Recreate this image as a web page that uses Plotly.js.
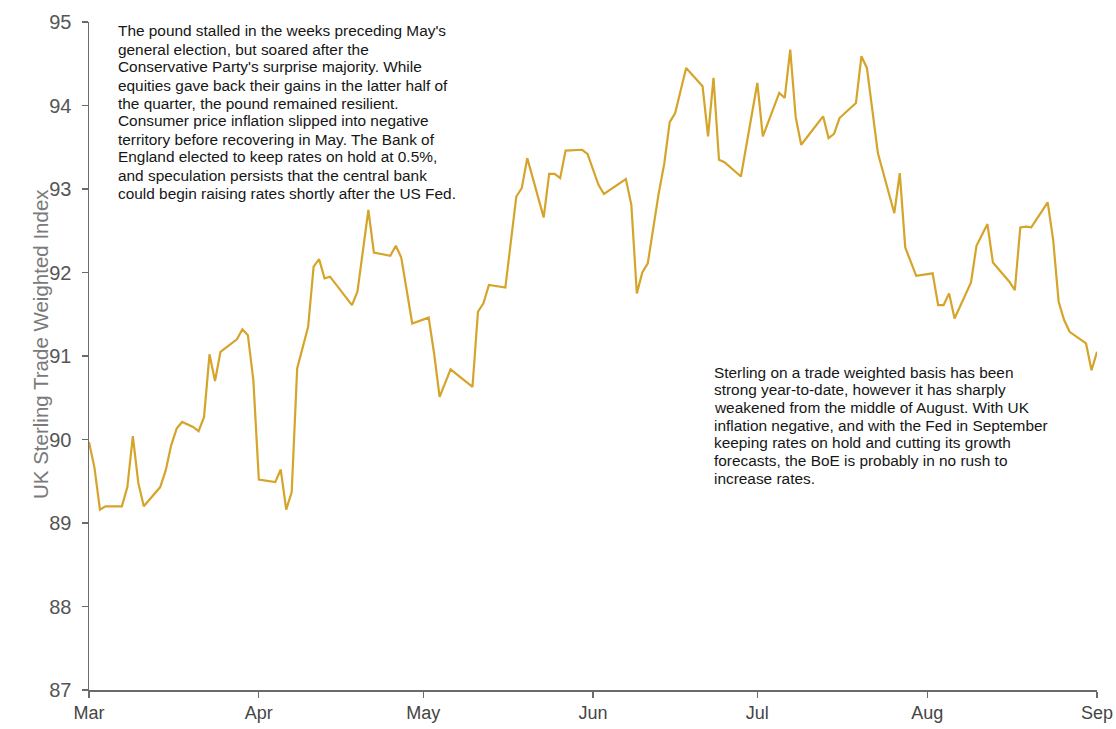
<!DOCTYPE html>
<html>
<head>
<meta charset="utf-8">
<script src="https://cdn.plot.ly/plotly-3.0.1.min.js"></script>
<style>
  html, body { margin: 0; padding: 0; background: #ffffff; }
  #chart { width: 1116px; height: 729px; }
</style>
</head>
<body>
<div id="chart"></div>
<script>
// Dates of the plotted observations (2015)
const dates = [
  "2015-03-01","2015-03-02","2015-03-03","2015-03-04","2015-03-07","2015-03-08","2015-03-09","2015-03-10",
  "2015-03-11","2015-03-14","2015-03-15","2015-03-16","2015-03-17","2015-03-18","2015-03-20","2015-03-21",
  "2015-03-22","2015-03-23","2015-03-24","2015-03-25","2015-03-28","2015-03-29","2015-03-30","2015-03-31",
  "2015-04-01","2015-04-04","2015-04-05","2015-04-06","2015-04-07","2015-04-08","2015-04-10","2015-04-11",
  "2015-04-12","2015-04-13","2015-04-14","2015-04-18","2015-04-19","2015-04-21","2015-04-22","2015-04-25",
  "2015-04-26","2015-04-27","2015-04-29","2015-05-02","2015-05-03","2015-05-04","2015-05-06","2015-05-10",
  "2015-05-11","2015-05-12","2015-05-13","2015-05-16","2015-05-18","2015-05-19","2015-05-20","2015-05-23",
  "2015-05-24","2015-05-25","2015-05-26","2015-05-27","2015-05-30","2015-05-31","2015-06-02","2015-06-03",
  "2015-06-07","2015-06-08","2015-06-09","2015-06-10","2015-06-11","2015-06-13","2015-06-14","2015-06-15",
  "2015-06-16","2015-06-18","2015-06-21","2015-06-22","2015-06-23","2015-06-24","2015-06-25","2015-06-28",
  "2015-07-01","2015-07-02","2015-07-05","2015-07-06","2015-07-07","2015-07-08","2015-07-09","2015-07-13",
  "2015-07-14","2015-07-15","2015-07-16","2015-07-19","2015-07-20","2015-07-21","2015-07-23","2015-07-26",
  "2015-07-27","2015-07-28","2015-07-30","2015-08-02","2015-08-03","2015-08-04","2015-08-05","2015-08-06",
  "2015-08-09","2015-08-10","2015-08-12","2015-08-13","2015-08-16","2015-08-17","2015-08-18","2015-08-19",
  "2015-08-20","2015-08-23","2015-08-24","2015-08-25","2015-08-26","2015-08-27","2015-08-30","2015-08-31",
  "2015-09-01"
];

// UK Sterling Trade Weighted Index values
const twi = [
  89.97, 89.66, 89.16, 89.20, 89.20, 89.43, 90.04, 89.48,
  89.20, 89.43, 89.63, 89.93, 90.13, 90.21, 90.15, 90.10,
  90.27, 91.02, 90.70, 91.05, 91.20, 91.32, 91.25, 90.71,
  89.52, 89.49, 89.64, 89.16, 89.37, 90.85, 91.35, 92.07,
  92.16, 91.93, 91.95, 91.61, 91.77, 92.75, 92.24, 92.20,
  92.32, 92.18, 91.39, 91.46, 91.03, 90.51, 90.84, 90.63,
  91.53, 91.63, 91.85, 91.82, 92.91, 93.01, 93.37, 92.66,
  93.18, 93.18, 93.13, 93.46, 93.47, 93.42, 93.05, 92.94,
  93.12, 92.81, 91.75, 92.00, 92.11, 92.95, 93.30, 93.80,
  93.91, 94.45, 94.23, 93.63, 94.33, 93.35, 93.32, 93.15,
  94.27, 93.63, 94.15, 94.09, 94.67, 93.86, 93.53, 93.87,
  93.61, 93.66, 93.85, 94.03, 94.59, 94.45, 93.43, 92.71,
  93.19, 92.30, 91.96, 91.99, 91.61, 91.61, 91.75, 91.45,
  91.88, 92.32, 92.58, 92.12, 91.89, 91.79, 92.54, 92.55,
  92.54, 92.84, 92.39, 91.65, 91.43, 91.29, 91.15, 90.83,
  91.05
];

const yTicks = [87, 88, 89, 90, 91, 92, 93, 94, 95];
const xTickDates = ["2015-03-01","2015-04-01","2015-05-01","2015-06-01","2015-07-01","2015-08-01","2015-09-01"];
const xTickLabels = ["Mar","Apr","May","Jun","Jul","Aug","Sep"];
const yTitle = "UK Sterling Trade Weighted Index";

const noteLeftLines = [
  "The pound stalled in the weeks preceding May's",
  "general election, but soared after the",
  "Conservative Party's surprise majority. While",
  "equities gave back their gains in the latter half of",
  "the quarter, the pound remained resilient.",
  "Consumer price inflation slipped into negative",
  "territory before recovering in May. The Bank of",
  "England elected to keep rates on hold at 0.5%,",
  "and speculation persists that the central bank",
  "could begin raising rates shortly after the US Fed."
];
const noteRightLines = [
  "Sterling on a trade weighted basis has been",
  "strong year-to-date, however it has sharply",
  "weakened from the middle of August. With UK",
  "inflation negative, and with the Fed in September",
  "keeping rates on hold and cutting its growth",
  "forecasts, the BoE is probably in no rush to",
  "increase rates."
];

const FONT = "Liberation Sans, Arial, Helvetica, sans-serif";

// plot area geometry in pixels (for placing the text notes)
const plotTop = 22, plotBottom = 690, plotLeft = 89, plotRight = 1097;
const px2paperX = px => (px - plotLeft) / (plotRight - plotLeft);
const px2paperY = py => (plotBottom - py) / (plotBottom - plotTop);

function noteAnnotations(lines, leftPx, firstCenterPx, stepPx) {
  return lines.map((t, i) => ({
    xref: "paper", yref: "paper",
    x: px2paperX(leftPx), y: px2paperY(firstCenterPx + i * stepPx),
    xanchor: "left", yanchor: "middle",
    align: "left",
    showarrow: false,
    borderpad: 0,
    text: t,
    font: { size: 15.4, color: "#161616", family: FONT }
  }));
}

const trace = {
  x: dates,
  y: twi,
  type: "scatter",
  mode: "lines",
  line: { color: "#D5A42A", width: 2.2 },
  hoverinfo: "x+y"
};

const layout = {
  width: 1116,
  height: 729,
  margin: { l: 89, r: 19, t: 22, b: 39 },
  paper_bgcolor: "#ffffff",
  plot_bgcolor: "#ffffff",
  showlegend: false,
  font: { family: FONT, color: "#444" },
  xaxis: {
    type: "date",
    range: ["2015-03-01", "2015-09-01"],
    tickmode: "array",
    tickvals: xTickDates,
    ticktext: xTickLabels,
    showgrid: false,
    zeroline: false,
    showline: true,
    linecolor: "#6b6b6b",
    linewidth: 1.5,
    ticks: "outside",
    ticklen: 6,
    tickwidth: 1.2,
    tickcolor: "#6b6b6b",
    tickfont: { size: 18, color: "#454545", family: FONT }
  },
  yaxis: {
    range: [87, 95],
    tickmode: "array",
    tickvals: yTicks,
    ticktext: yTicks.map(String),
    showgrid: false,
    zeroline: false,
    showline: true,
    linecolor: "#6b6b6b",
    linewidth: 1.5,
    ticks: "outside",
    ticklen: 6,
    ticklabelstandoff: 6,
    tickwidth: 1.2,
    tickcolor: "#6b6b6b",
    tickfont: { size: 20, color: "#555555", family: FONT }
  },
  annotations: [].concat(
    [{
      xref: "paper", yref: "paper",
      x: px2paperX(40), y: px2paperY(344),
      xanchor: "center", yanchor: "middle",
      textangle: -90,
      showarrow: false,
      text: yTitle,
      font: { size: 20.5, color: "#7a7a7a", family: FONT }
    }],
    noteAnnotations(noteLeftLines, 117, 31, 18),
    noteAnnotations(noteRightLines, 713, 372, 17.7)
  )
};

Plotly.newPlot("chart", [trace], layout, { displayModeBar: false, staticPlot: true });
</script>
</body>
</html>
